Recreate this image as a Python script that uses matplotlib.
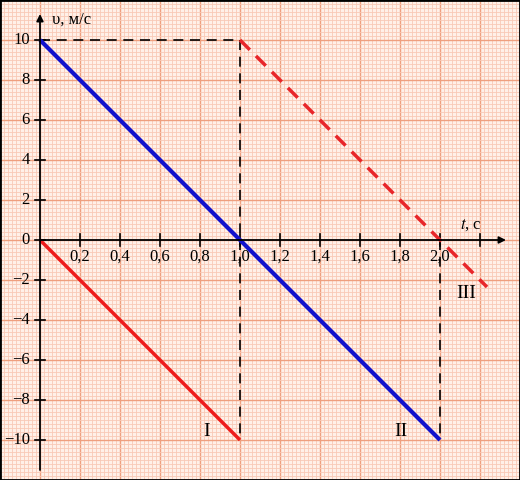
import numpy as np
import matplotlib.pyplot as plt

plt.rcParams["mathtext.fontset"] = "stix"

# graphs v(t)
t_I = [0.0, 1.0]
v_I = [0.0, -10.0]
t_II = [0.0, 2.0]
v_II = [10.0, -10.0]
t_III = [1.0, 2.235]
v_III = [10.0, -2.35]

xticks = [0.2, 0.4, 0.6, 0.8, 1.0, 1.2, 1.4, 1.6, 1.8, 2.0, 2.2]
xlabels = ["0,2", "0,4", "0,6", "0,8", "1,0", "1,2", "1,4", "1,6", "1,8", "2,0"]
yticks = [10, 8, 6, 4, 2, 0, -2, -4, -6, -8, -10]

paper = "#fff0e8"
fine = "#f9c9b6"
major = "#ef9f7e"
serif = "Liberation Serif"

fig = plt.figure(figsize=(5.2, 4.8), dpi=100, facecolor=paper)
ax = fig.add_axes([0, 0, 1, 1])
ax.set_facecolor(paper)
ax.set_xlim(-0.2, 2.4)
ax.set_ylim(-12, 12)

# graph paper
ax.set_xticks(np.arange(-0.2, 2.41, 0.2))
ax.set_xticks(np.arange(-0.2, 2.41, 0.02), minor=True)
ax.set_yticks(np.arange(-12, 12.1, 2))
ax.set_yticks(np.arange(-12, 12.1, 0.2), minor=True)
ax.grid(which="minor", color=fine, lw=0.6)
ax.grid(which="major", color=major, lw=1.0)
ax.tick_params(which="both", length=0, labelbottom=False, labelleft=False)
for s in ax.spines.values():
    s.set_color("black")
    s.set_linewidth(2)

# axes with arrows
ax.annotate("", xy=(2.33, 0), xytext=(0, 0),
            arrowprops=dict(arrowstyle="-|>", color="black", lw=1.3,
                            mutation_scale=10, shrinkA=0, shrinkB=0))
ax.annotate("", xy=(0, 11.3), xytext=(0, -11.5),
            arrowprops=dict(arrowstyle="-|>", color="black", lw=1.3,
                            mutation_scale=10, shrinkA=0, shrinkB=0))

for x in xticks:
    ax.plot([x, x], [-0.3, 0.3], color="black", lw=1.2)
for x, lab in zip(xticks, xlabels):
    ax.text(x, -0.45, lab, ha="center", va="top", fontsize=12, family=serif)
for y in yticks:
    ax.plot([-0.025, 0.025], [y, y], color="black", lw=1.2)
    lab = str(y).replace("-", "\u2212")
    ax.text(-0.05, y, lab, ha="right", va="center", fontsize=12, family=serif)

ax.text(0.06, 11.0, "υ, м/с", ha="left", va="center", fontsize=12, family=serif)
ax.text(2.1, 0.75, r"$t$, с", ha="left", va="center", fontsize=12, family=serif)

# helper dashed lines
dash = dict(color="black", lw=1.2, ls=(0, (6, 4)))
ax.plot([0, 1], [10, 10], **dash)
ax.plot([1, 1], [10, -10], **dash)
ax.plot([2, 2], [0, -10], **dash)

ax.plot(t_II, v_II, color="#1212cc", lw=3, solid_capstyle="butt")
ax.plot(t_I, v_I, color="#ee1c1c", lw=2.5, solid_capstyle="butt")
ax.plot(t_III, v_III, color="#e8262a", lw=2.5, ls=(0, (4, 2.5)))

ax.text(0.835, -9.6, "I", ha="center", va="center", fontsize=14, family=serif)
ax.text(1.805, -9.6, "II", ha="center", va="center", fontsize=14, family=serif)
ax.text(2.13, -2.65, "III", ha="center", va="center", fontsize=14, family=serif)

fig.savefig("out.png", dpi=100, facecolor=paper)
